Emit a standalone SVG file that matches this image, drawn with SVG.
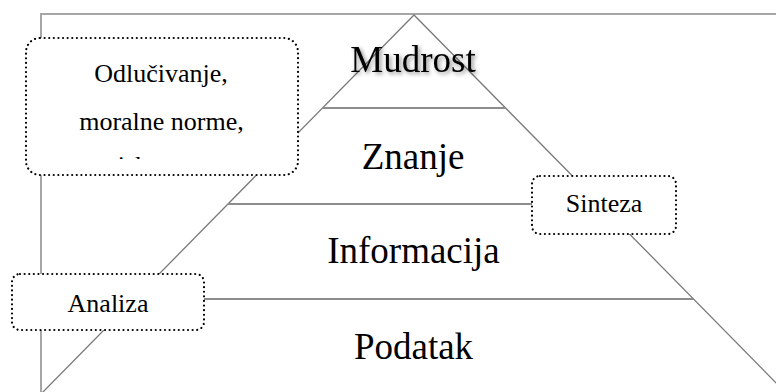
<svg xmlns="http://www.w3.org/2000/svg" width="776" height="392" viewBox="0 0 776 392">
  <style>
    .frame { stroke: #a6a6a6; stroke-width: 2; fill: none; }
    .slope { stroke: #7a7a7a; stroke-width: 1.3; fill: none; }
    .level { stroke: #8c8c8c; stroke-width: 2; fill: none; }
    .box { fill: #ffffff; stroke: #000000; stroke-width: 2.2; stroke-linecap: round; stroke-dasharray: 0.01 4.6; }
    .big { font-family: "Liberation Serif", "Times New Roman", serif; font-size: 37px; fill: #000000; text-anchor: middle; }
    .small { font-family: "Liberation Serif", "Times New Roman", serif; font-size: 26px; fill: #000000; text-anchor: middle; }
  </style>
  <defs>
    <filter id="glow" x="-20%" y="-40%" width="140%" height="180%">
      <feGaussianBlur in="SourceAlpha" stdDeviation="2"/>
      <feOffset dx="2" dy="2" result="b"/>
      <feComponentTransfer in="b" result="s">
        <feFuncA type="linear" slope="0.45"/>
      </feComponentTransfer>
      <feMerge>
        <feMergeNode in="s"/>
        <feMergeNode in="SourceGraphic"/>
      </feMerge>
    </filter>
    <clipPath id="clipThird">
      <rect x="26" y="38" width="272" height="121"/>
    </clipPath>
  </defs>
  <rect x="0" y="0" width="776" height="392" fill="#ffffff"/>

  <g id="connectors">
    <path class="frame" d="M41,392 V14 H776"/>
    <path class="slope" d="M41,394 L414,15 L787,394"/>
    <line class="level" x1="322" y1="108" x2="506" y2="108"/>
    <line class="level" x1="228" y1="204" x2="600" y2="204"/>
    <line class="level" x1="130" y1="299" x2="694" y2="299"/>
  </g>

  <g id="mudrost">
    <text class="big" x="413" y="72" filter="url(#glow)">Mudrost</text>
  </g>
  <g id="znanje">
    <text class="big" x="413" y="169">Znanje</text>
  </g>
  <g id="informacija">
    <text class="big" x="413.5" y="263">Informacija</text>
  </g>
  <g id="podatak">
    <text class="big" x="413.5" y="359">Podatak</text>
  </g>

  <g id="odlucivanje">
    <rect class="box" x="26" y="38" width="272" height="137" rx="14" ry="14"/>
    <text class="small" x="161" y="82">Odlučivanje,</text>
    <text class="small" x="161.5" y="130">moralne norme,</text>
    <text class="small" x="161" y="174" clip-path="url(#clipThird)">iskustvo</text>
  </g>

  <g id="sinteza">
    <rect class="box" x="532" y="176" width="144" height="58" rx="8" ry="8"/>
    <text class="small" x="604" y="212">Sinteza</text>
  </g>

  <g id="analiza">
    <rect class="box" x="12" y="274" width="192" height="56" rx="8" ry="8"/>
    <text class="small" x="108" y="312">Analiza</text>
  </g>
</svg>
